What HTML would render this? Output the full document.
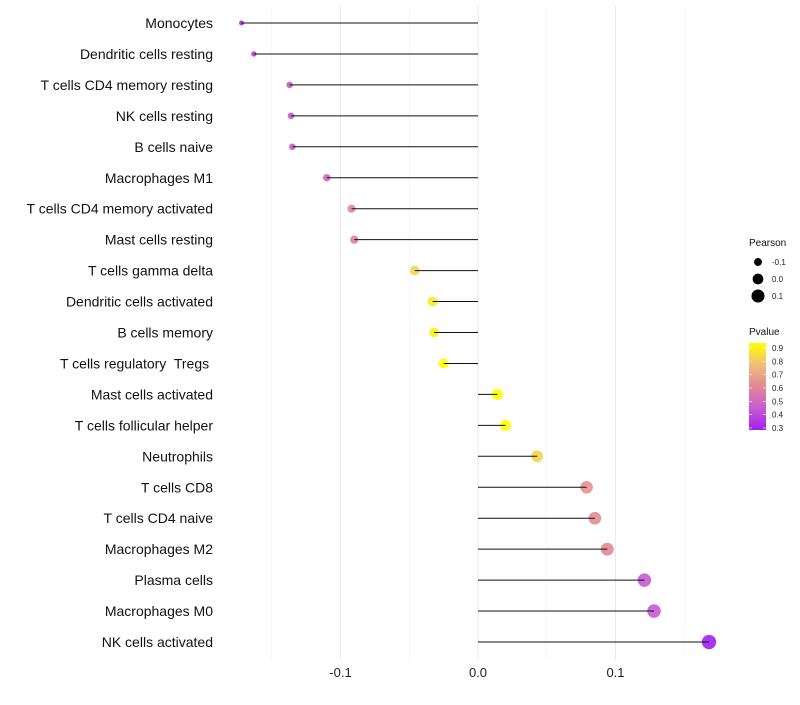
<!DOCTYPE html>
<html><head><meta charset="utf-8"><style>
body{margin:0;background:#fff;}
svg text{font-family:"Liberation Sans",sans-serif;white-space:pre;}
</style></head><body>
<svg id="chart" width="800" height="700"></svg>
<script>
const categories=["Monocytes","Dendritic cells resting","T cells CD4 memory resting","NK cells resting","B cells naive","Macrophages M1","T cells CD4 memory activated","Mast cells resting","T cells gamma delta","Dendritic cells activated","B cells memory","T cells regulatory  Tregs\u00a0","Mast cells activated","T cells follicular helper","Neutrophils","T cells CD8","T cells CD4 naive","Macrophages M2","Plasma cells","Macrophages M0","NK cells activated"];
const pearson=[-0.172,-0.163,-0.137,-0.136,-0.135,-0.110,-0.092,-0.090,-0.046,-0.033,-0.032,-0.025,0.014,0.020,0.043,0.079,0.085,0.094,0.121,0.128,0.168];
const pvalue=[0.32,0.38,0.45,0.45,0.45,0.5,0.6,0.58,0.8,0.85,0.87,0.92,0.95,0.95,0.8,0.63,0.62,0.6,0.45,0.45,0.3];
const xTicks=[-0.1,0.0,0.1];
const xMinor=[-0.15,-0.05,0.05,0.15];
const sizeLegend=[-0.1,0.0,0.1];
const pTicks=[0.9,0.8,0.7,0.6,0.5,0.4,0.3];

const NS="http://www.w3.org/2000/svg";
const svg=document.getElementById('chart');
function mk(t,a,p){const e=document.createElementNS(NS,t);for(const k in a)e.setAttribute(k,a[k]);(p||svg).appendChild(e);return e;}
const x=v=>478+v*1375;
const y=i=>23+i*30.95;
const rad=v=>Math.max(1.5,Math.sqrt(Math.max(0,29+133*v)));
const stops=[[0.3,[160,32,240]],[0.45,[200,90,210]],[0.6,[225,135,150]],[0.75,[240,190,120]],[0.9,[255,255,0]]];
function col(p){p=Math.max(0.3,Math.min(0.9,p));for(let i=0;i<stops.length-1;i++){const [a,ca]=stops[i],[b,cb]=stops[i+1];if(p<=b){const t=(p-a)/(b-a);return 'rgb('+ca.map((c,j)=>Math.round(c+(cb[j]-c)*t)).join(',')+')';}}}
const yScale=p=>428-(p-0.3)/0.6*80;

const grid=mk('g',{});
xMinor.forEach(v=>{const l=mk('line',{x1:x(v),x2:x(v),y1:5,y2:660,stroke:'#f2f2f2','stroke-width':0.6},grid);});
xTicks.forEach(v=>{const l=mk('line',{x1:x(v),x2:x(v),y1:5,y2:660,stroke:'#ebebeb','stroke-width':1},grid);});

const xa=mk('g',{});
xTicks.forEach(v=>{const t=mk('text',{x:x(v),y:677,'text-anchor':'middle','font-size':13,fill:'#222'},xa);t.textContent=v.toFixed(1);});

const ya=mk('g',{});
const marks=mk('g',{});
categories.forEach((c,i)=>{
 const t=mk('text',{x:213,y:y(i)+5,'text-anchor':'end','font-size':14,fill:'#111'},ya);t.textContent=c;
 
 const d=mk('circle',{cx:x(pearson[i]),cy:y(i),r:rad(pearson[i]),fill:col(pvalue[i]),'fill-opacity':0.9},marks);
 
 const l=mk('line',{x1:x(0),x2:x(pearson[i]),y1:y(i),y2:y(i),stroke:'#111','stroke-width':1},marks);
 
});

const lg=mk('g',{});
const t1=mk('text',{x:749,y:246,'font-size':10,fill:'#111'},lg);t1.textContent='Pearson';
sizeLegend.forEach((v,i)=>{const cy=262+i*17;const c=mk('circle',{cx:758,cy:cy,r:rad(v),fill:'#000'},lg);
 const t=mk('text',{x:772,y:cy+3,'font-size':8,fill:'#222'},lg);t.textContent=v.toFixed(1);});
const t2=mk('text',{x:749,y:335,'font-size':10,fill:'#111'},lg);t2.textContent='Pvalue';
const defs=mk('defs',{});const gr=mk('linearGradient',{id:'pg',x1:0,y1:1,x2:0,y2:0},defs);
stops.forEach(s=>mk('stop',{offset:((s[0]-0.3)/0.6),'stop-color':'rgb('+s[1].join(',')+')'},gr));
const bar=mk('rect',{x:749,y:343,width:17,height:87,fill:'url(#pg)'},lg);
pTicks.forEach(p=>{const yy=yScale(p);mk('line',{x1:749,x2:752,y1:yy,y2:yy,stroke:'#fff','stroke-width':0.6},lg);mk('line',{x1:763,x2:766,y1:yy,y2:yy,stroke:'#fff','stroke-width':0.6},lg);
 const t=mk('text',{x:772,y:yy+3,'font-size':8,fill:'#222'},lg);t.textContent=p.toFixed(1);});
</script>
</body></html>
